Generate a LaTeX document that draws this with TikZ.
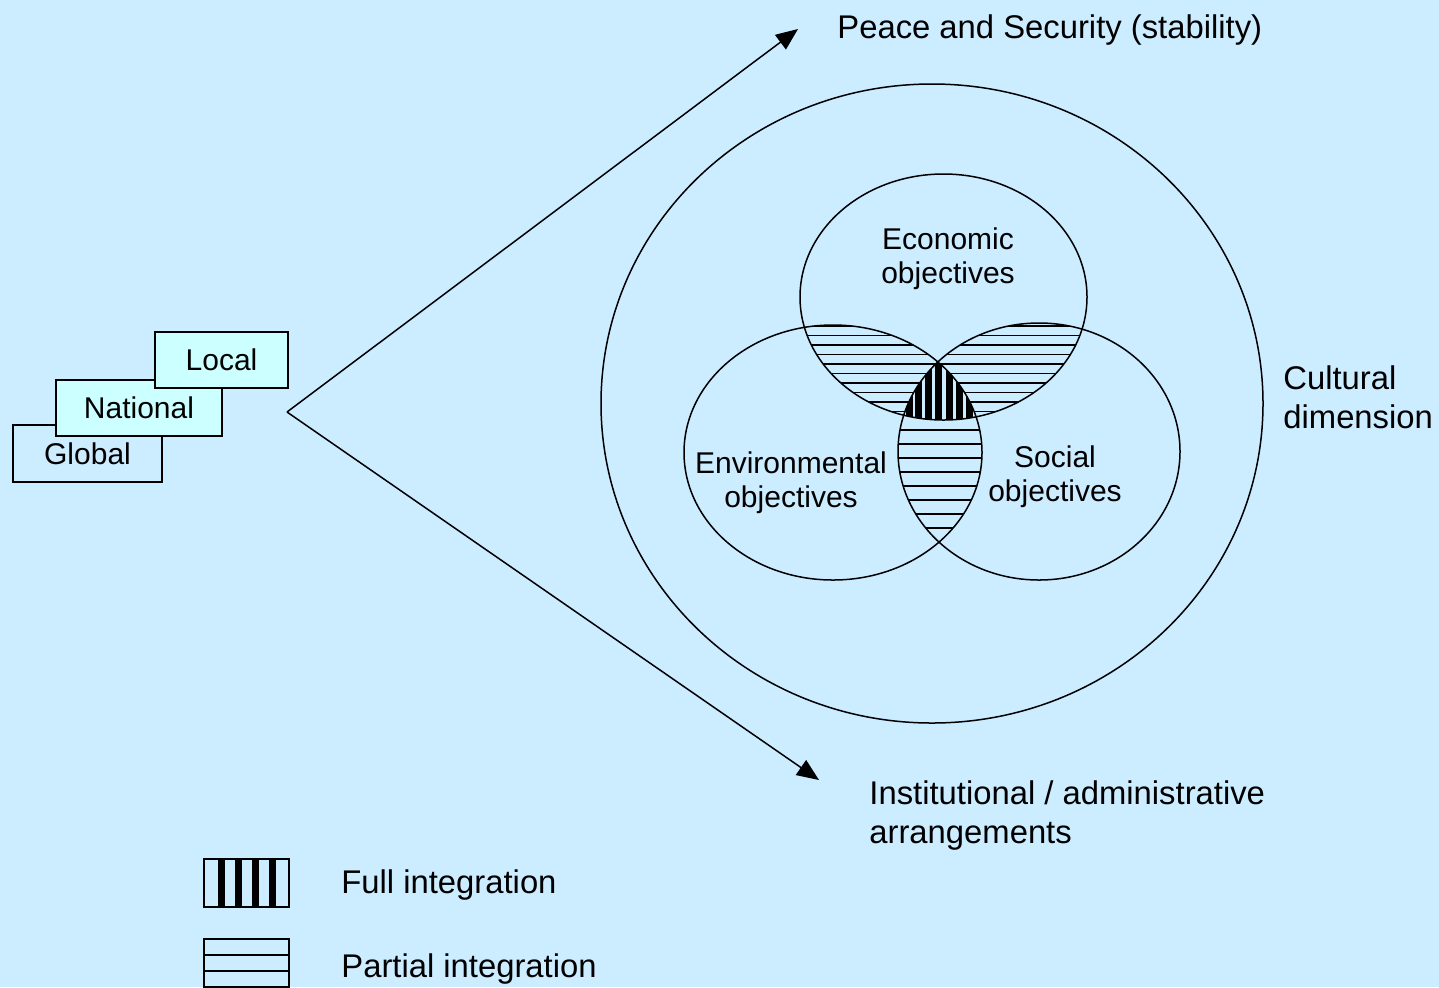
\documentclass[tikz,border=0pt]{standalone}
\usepackage{fontspec}
\setmainfont{Liberation Sans}
\usetikzlibrary{arrows.meta}
\definecolor{skyback}{RGB}{204,236,255}
\definecolor{boxcyan}{RGB}{204,255,255}
\tikzstyle{levelbox}=[black, draw=black, line width=0.75pt, shape=rectangle, fill=boxcyan, inner sep=0pt, font=\fontsize{15}{17}\selectfont]
\tikzstyle{bigtext}=[black, shape=rectangle, inner sep=0pt, align=left, font=\fontsize{16.4}{19.5}\selectfont]
\tikzstyle{venntext}=[black, shape=rectangle, inner sep=0pt, align=center, font=\fontsize{15}{17}\selectfont]
\newcommand{\econpath}{(943.5,297) ellipse [x radius=143.5, y radius=123]}
\newcommand{\envpath}{(833,452.5) ellipse [x radius=149, y radius=127.5]}
\newcommand{\socpath}{(1039,451.5) ellipse [x radius=141, y radius=128.5]}

\begin{document}
\begin{tikzpicture}[x=0.5pt, y=-0.5pt]
\fill[skyback] (0,0) rectangle (1439,987);
\useasboundingbox (0,0) rectangle (1439,987);

% partial integration
\begin{scope}
\clip \econpath;
\clip \envpath;
\foreach \y in {326,335.5,...,420} \draw[line width=0.75pt] (680,\y) -- (1000,\y);
\end{scope}
\begin{scope}
\clip \econpath;
\clip \socpath;
\foreach \y in {326,335.5,...,420} \draw[line width=0.75pt] (880,\y) -- (1100,\y);
\end{scope}
\begin{scope}
\clip \envpath;
\clip \socpath;
\foreach \y in {430,444,...,580} \draw[line width=0.75pt] (880,\y) -- (1000,\y);
\end{scope}

% full integration
\begin{scope}
\clip \econpath;
\clip \envpath;
\clip \socpath;
\fill[skyback] (880,340) rectangle (1000,440);
\foreach \x in {909,918.5,928,938.5,949,959,969} \fill[black] (\x-3.5,340) rectangle (\x+3.5,440);
\end{scope}

\draw[line width=0.75pt] (932,403.5) ellipse [x radius=331, y radius=319.5];
\draw[line width=0.75pt] \econpath;
\draw[line width=0.75pt] \envpath;
\draw[line width=0.75pt] \socpath;

\node [venntext] (econ) at (948,259) {Economic\\objectives};
\node [venntext] (env) at (791,483) {Environmental\\objectives};
\node [venntext] (soc) at (1055,477) {Social\\objectives};

\node [levelbox, fill=skyback, minimum width=74.5pt, minimum height=28.5pt] (global) at (87.5,453.5) {Global};
\node [levelbox, minimum width=83pt, minimum height=28pt] (national) at (139,408) {National};
\node [levelbox, minimum width=66.5pt, minimum height=28pt] (local) at (221.5,360) {Local};

\coordinate (apex) at (287,412);
\coordinate (peace) at (798,29);
\coordinate (inst) at (819,780);
\draw[-{Triangle[length=11pt, width=9pt]}, line width=0.75pt, color=black] (apex) -- (peace);
\draw[-{Triangle[length=11pt, width=9pt]}, line width=0.75pt, color=black] (apex) -- (inst);

\node [bigtext, anchor=base west] (peacetext) at (837,38) {Peace and Security (stability)};
\node [bigtext, anchor=base west] (culture) at (1283,428) {Cultural\\dimension};
\node [bigtext, anchor=base west] (insttext) at (869,843) {Institutional / administrative\\arrangements};

% legend
\node [draw=black, line width=0.75pt, shape=rectangle, inner sep=0pt, minimum width=42.5pt, minimum height=24pt] (fullbox) at (246.5,883) {};
\foreach \x in {221.5,238.5,255.5,272} \fill[black] (\x-3.5,859) rectangle (\x+3.5,907);
\node [draw=black, line width=0.75pt, shape=rectangle, inner sep=0pt, minimum width=42.5pt, minimum height=32pt] (partbox) at (246.5,971) {};
\foreach \y in {955,971,987} \draw[line width=0.75pt] (partbox.west |- 0,\y) -- (partbox.east |- 0,\y);
\node [bigtext, anchor=base west] (fulltext) at (341,893) {Full integration};
\node [bigtext, anchor=base west] (parttext) at (341,977) {Partial integration};
\end{tikzpicture}
\end{document}
